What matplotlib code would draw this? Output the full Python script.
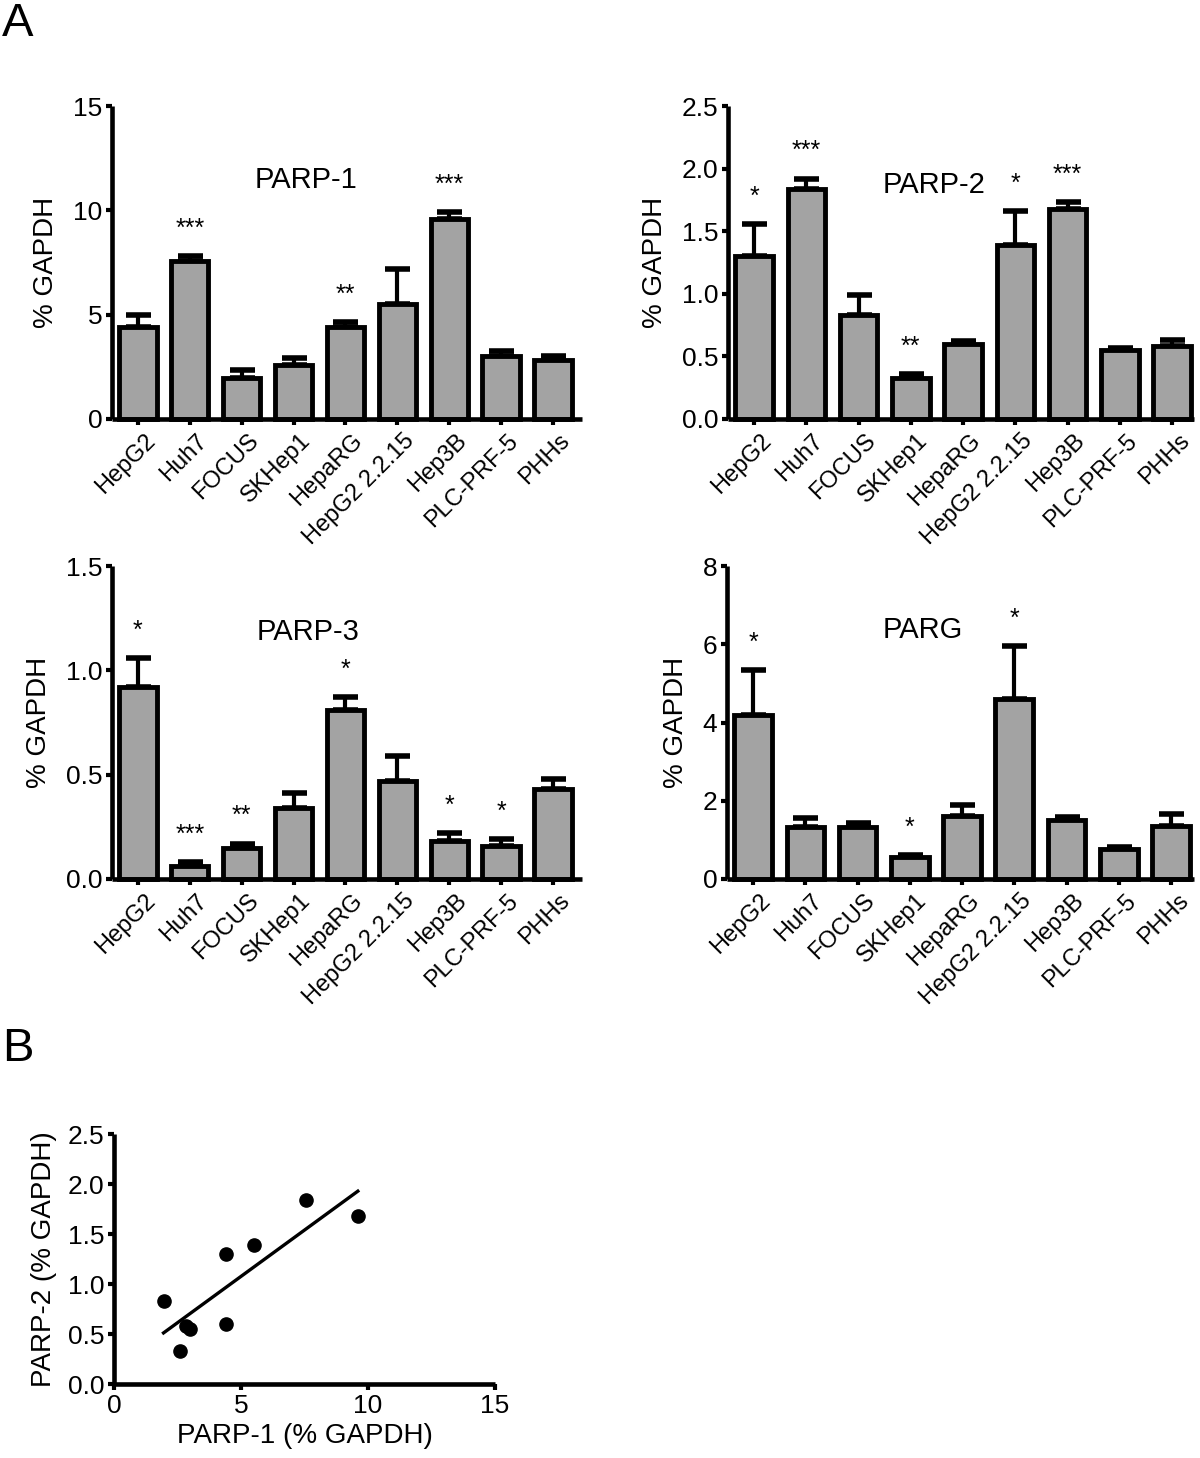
import numpy as np
import matplotlib
matplotlib.use("Agg")
import matplotlib.pyplot as plt
import matplotlib.transforms as mtrans
from matplotlib import font_manager

names = {f.name for f in font_manager.fontManager.ttflist}
FONT = 'Liberation Sans Narrow' if 'Liberation Sans Narrow' in names else 'Liberation Sans'
plt.rcParams['font.family'] = [FONT, 'DejaVu Sans']

cells = ["HepG2", "Huh7", "FOCUS", "SKHep1", "HepaRG", "HepG2 2.2.15", "Hep3B", "PLC-PRF-5", "PHHs"]

parp1 = [4.4, 7.55, 1.95, 2.6, 4.4, 5.5, 9.6, 3.0, 2.85]
parp1_top = [5.0, 7.8, 2.35, 2.9, 4.65, 7.2, 9.9, 3.25, 3.0]
parp1_sig = ["", "***", "", "", "**", "", "***", "", ""]

parp2 = [1.30, 1.84, 0.83, 0.33, 0.60, 1.39, 1.68, 0.55, 0.58]
parp2_top = [1.56, 1.92, 0.99, 0.36, 0.62, 1.66, 1.73, 0.57, 0.63]
parp2_sig = ["*", "***", "", "**", "", "*", "***", "", ""]

parp3 = [0.92, 0.06, 0.15, 0.34, 0.81, 0.47, 0.18, 0.16, 0.43]
parp3_top = [1.06, 0.08, 0.17, 0.41, 0.87, 0.59, 0.22, 0.19, 0.48]
parp3_sig = ["*", "***", "**", "", "*", "", "*", "*", ""]

parg = [4.2, 1.32, 1.32, 0.57, 1.62, 4.6, 1.50, 0.77, 1.36]
parg_top = [5.35, 1.55, 1.42, 0.62, 1.90, 5.95, 1.58, 0.82, 1.65]
parg_sig = ["*", "", "", "*", "", "*", "", "", ""]

W, H = 1200, 1458
fig = plt.figure(figsize=(W / 100, H / 100), dpi=100)


def px_axes(left, top, right, bottom):
    return fig.add_axes([left / W, 1 - bottom / H, (right - left) / W, (bottom - top) / H])


GREY = '#a3a3a3'
TICK_FS = 19
LAB_FS = 20


def style(ax):
    for s in ['top', 'right']:
        ax.spines[s].set_visible(False)
    for s in ['left', 'bottom']:
        ax.spines[s].set_linewidth(3.3)
        ax.spines[s].set_capstyle('butt')
    ax.tick_params(axis='both', width=3, length=4, labelsize=TICK_FS, pad=3)


def bar_panel(rect, vals, tops, sig, title, ymax, yticks, ytl, xmax, tpos):
    ax = px_axes(*rect)
    x = np.arange(len(cells))
    ax.bar(x, vals, width=0.72, color=GREY, edgecolor='black', linewidth=3.5, zorder=2, clip_on=False)
    up = np.array(tops) - np.array(vals)
    ax.errorbar(x, vals, yerr=[np.zeros_like(up), up], fmt='none', ecolor='black',
                elinewidth=3.0, capsize=9, capthick=4.0, zorder=1, clip_on=False)
    for xi, t, s in zip(x, tops, sig):
        if s:
            ax.annotate(s, (xi, t), xytext=(0, 11), textcoords='offset points',
                        ha='center', va='bottom', fontsize=18)
    ax.set_xlim(-0.5, xmax)
    ax.set_ylim(0, ymax)
    ax.set_yticks(yticks)
    ax.set_yticklabels(ytl)
    ax.set_xticks(x)
    ax.set_xticklabels(cells, rotation=45, ha='right', va='top', rotation_mode='anchor')
    style(ax)
    ax.tick_params(axis='x', labelsize=17)
    off = mtrans.ScaledTranslation(6 / 100, -1 / 100, fig.dpi_scale_trans)
    for lab in ax.get_xticklabels():
        lab.set_transform(lab.get_transform() + off)
    ax.set_ylabel('% GAPDH', fontsize=LAB_FS, labelpad=10)
    ax.text(tpos[0], tpos[1], title, transform=ax.transAxes, ha='center', va='center', fontsize=21)
    return ax


bar_panel((112, 106, 582, 419), parp1, parp1_top, parp1_sig, 'PARP-1', 15,
          [0, 5, 10, 15], ['0', '5', '10', '15'], 8.56, (0.413, 0.764))
bar_panel((728, 106, 1194, 419), parp2, parp2_top, parp2_sig, 'PARP-2', 2.5,
          [0, 0.5, 1.0, 1.5, 2.0, 2.5], ['0.0', '0.5', '1.0', '1.5', '2.0', '2.5'], 8.42, (0.442, 0.748))
bar_panel((112, 566, 582, 879), parp3, parp3_top, parp3_sig, 'PARP-3', 1.5,
          [0, 0.5, 1.0, 1.5], ['0.0', '0.5', '1.0', '1.5'], 8.56, (0.417, 0.789))
bar_panel((727, 566, 1194, 879), parg, parg_top, parg_sig, 'PARG', 8,
          [0, 2, 4, 6, 8], ['0', '2', '4', '6', '8'], 8.44, (0.42, 0.795))

# Panel B scatter
ax = px_axes(114, 1134, 495, 1384)
px1 = np.array(parp1)
px2 = np.array(parp2)
ax.plot(px1, px2, 'o', color='black', markersize=9.5, clip_on=False, zorder=3)
k, b = np.polyfit(px1, px2, 1)
xl = np.array([px1.min(), px1.max()])
ax.plot(xl, k * xl + b, color='black', linewidth=2.4)
ax.set_xlim(0, 15)
ax.set_ylim(0, 2.5)
ax.set_xticks([0, 5, 10, 15])
ax.set_yticks([0, 0.5, 1.0, 1.5, 2.0, 2.5])
ax.set_yticklabels(['0.0', '0.5', '1.0', '1.5', '2.0', '2.5'])
style(ax)
ax.set_xlabel('PARP-1 (% GAPDH)', fontsize=LAB_FS, labelpad=4)
ax.set_ylabel('PARP-2 (% GAPDH)', fontsize=LAB_FS, labelpad=8)

fig.text(0.002, 1 - 2 / H, 'A', fontsize=34, ha='left', va='top')
fig.text(0.002, 1 - 1027 / H, 'B', fontsize=34, ha='left', va='top')

fig.savefig('out.png', dpi=100, facecolor='white')
